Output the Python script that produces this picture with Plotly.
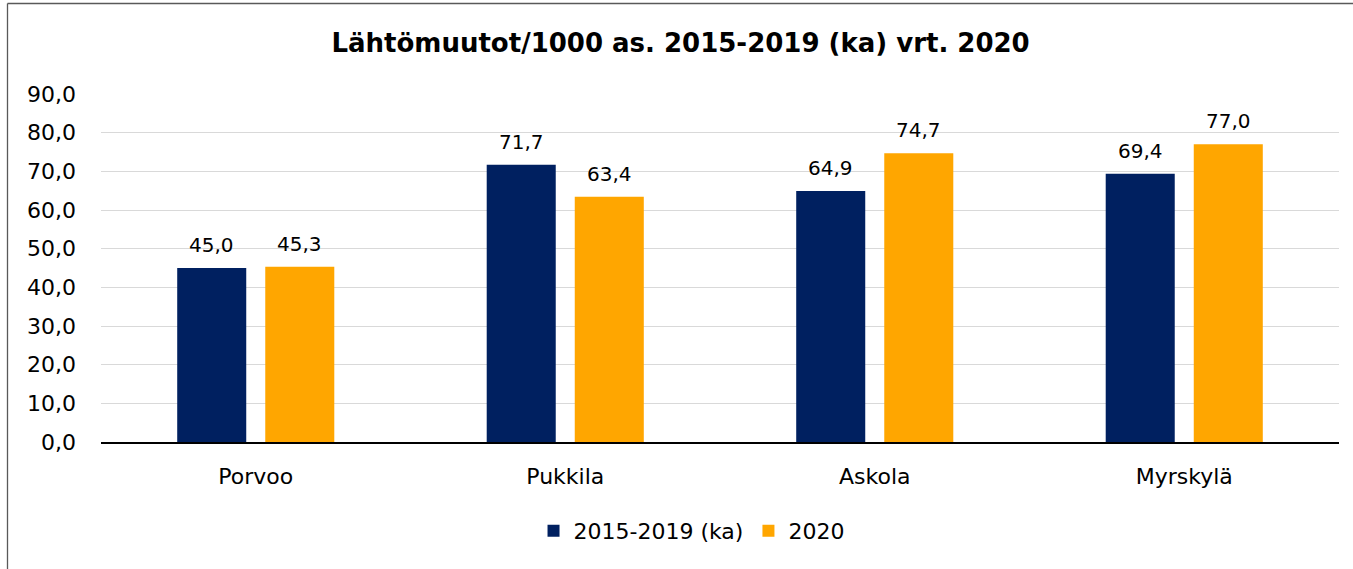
import plotly.graph_objects as go

# Data
kunnat = ["Porvoo", "Pukkila", "Askola", "Myrskylä"]
ka_2015_2019 = [45.0, 71.7, 64.9, 69.4]
v2020 = [45.3, 63.4, 74.7, 77.0]
sarjat = ["2015-2019 (ka)", "2020"]
y_ticks = [0, 10, 20, 30, 40, 50, 60, 70, 80, 90]
y_tick_labels = ["0,0", "10,0", "20,0", "30,0", "40,0", "50,0", "60,0", "70,0", "80,0", "90,0"]

W, H = 1353, 569
ML, MR, MT, MB = 101, 14, 94, 127
FONT = "DejaVu Sans"
COL_DARK = "#002060"
COL_ORANGE = "#FFA600"
BARGAP = 0.431
BARGROUPGAP = 0.216


def fmt(v):
    return f"{v:.1f}".replace(".", ",")


fig = go.Figure()
fig.add_trace(go.Bar(name=sarjat[0], x=kunnat, y=ka_2015_2019,
                     marker=dict(color=COL_DARK, line=dict(width=0))))
fig.add_trace(go.Bar(name=sarjat[1], x=kunnat, y=v2020,
                     marker=dict(color=COL_ORANGE, line=dict(width=0))))

# value labels above each bar
slot = (1 - BARGAP) / 2
annotations = []
for i, k in enumerate(kunnat):
    for j, vals in enumerate([ka_2015_2019, v2020]):
        offset = (j - 0.5) * slot
        annotations.append(dict(
            x=i + offset, y=vals[i], xref="x", yref="y",
            text=fmt(vals[i]), showarrow=False, yanchor="bottom",
            yshift=9, font=dict(family=FONT, size=20, color="#000000")))

pw = W - ML - MR
ph = H - MT - MB


def px_to_paper_x(px):
    return (px - ML) / pw


def px_to_paper_y(py):
    return (H - MB - py) / ph


# outer frame of the chart (top and left edges)
frame_col = "#595959"
shapes = [
    dict(type="line", xref="paper", yref="paper",
         x0=px_to_paper_x(7.5), x1=px_to_paper_x(1360),
         y0=px_to_paper_y(3.5), y1=px_to_paper_y(3.5),
         line=dict(color=frame_col, width=1.3)),
    dict(type="line", xref="paper", yref="paper",
         x0=px_to_paper_x(7.5), x1=px_to_paper_x(7.5),
         y0=px_to_paper_y(3.5), y1=px_to_paper_y(580),
         line=dict(color=frame_col, width=1.3)),
]

fig.update_layout(
    width=W, height=H,
    margin=dict(l=ML, r=MR, t=MT, b=MB, pad=0),
    paper_bgcolor="white", plot_bgcolor="white",
    barmode="group", bargap=BARGAP, bargroupgap=BARGROUPGAP,
    title=dict(text="<b>Lähtömuutot/1000 as. 2015-2019 (ka) vrt. 2020</b>",
               x=0.503, xanchor="center", y=1 - 43 / H, yanchor="middle",
               font=dict(family=FONT, size=26, color="#000000")),
    font=dict(family=FONT, color="#000000"),
    showlegend=True,
    legend=dict(orientation="h", x=0.477, xanchor="center",
                y=px_to_paper_y(531), yanchor="middle",
                font=dict(family=FONT, size=22, color="#000000"),
                itemwidth=30, traceorder="normal"),
    annotations=annotations,
    shapes=shapes,
)

fig.update_xaxes(
    type="category", showgrid=False, showline=True,
    linecolor="#000000", linewidth=1.5, ticks="",
    tickfont=dict(family=FONT, size=22, color="#000000"),
    ticklabelstandoff=14,
)
fig.update_yaxes(
    range=[0, 90], tickvals=y_ticks, ticktext=y_tick_labels,
    showgrid=True, gridcolor="#D9D9D9", gridwidth=1.2,
    zeroline=False, showline=False, ticks="",
    tickfont=dict(family=FONT, size=22, color="#000000"),
    ticklabelstandoff=24,
)

fig.write_html("out.html")
